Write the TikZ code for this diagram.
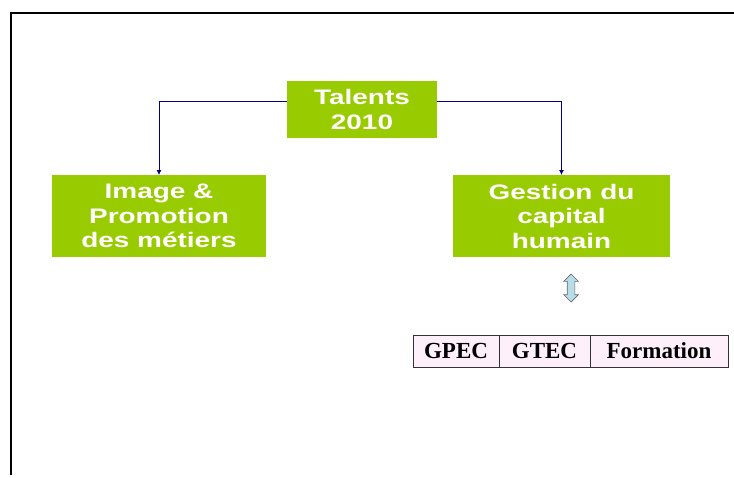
\documentclass[tikz,border=0pt]{standalone}
\usepackage{fontspec}
\usetikzlibrary{positioning,shapes.arrows,arrows.meta}
\newfontfamily\boxfont[FakeStretch=1.33]{Liberation Sans}
\newfontfamily\cellfont{Liberation Serif}
\definecolor{talentgreen}{RGB}{153,204,0}
\definecolor{linkblue}{RGB}{0,0,128}
\definecolor{cellpink}{RGB}{253,240,250}
\definecolor{arrowblue}{RGB}{183,222,232}
\tikzset{
  greenbox/.style={fill=talentgreen,text=white,font=\boxfont\bfseries\fontsize{21}{24.5}\selectfont,
    align=center,inner sep=0pt,outer sep=0pt},
  link/.style={draw=linkblue,line width=.8pt,-{Latex[length=5pt,width=5pt]}},
  cell/.style={draw=black!80,fill=cellpink,line width=.8pt,font=\cellfont\bfseries\fontsize{23}{24}\selectfont,
    minimum height=32pt,inner sep=0pt,outer sep=0pt,anchor=west}
}
\begin{document}
\begin{tikzpicture}[x=1pt,y=-1pt]
\useasboundingbox(0,0)rectangle(734,477);
\draw[line width=2.2pt](11,475)--(11,13)--(734,13);
\node[greenbox,minimum width=150pt,minimum height=57pt](talents) at (362,109.5){Talents\\2010};
\node[greenbox,minimum width=214pt,minimum height=82pt](image) at (159,216){Image \&\\Promotion\\des métiers};
\node[greenbox,minimum width=217pt,minimum height=82pt](gestion) at (561.5,216){Gestion du\\capital\\humain};
\draw[link]([yshift=8.5pt]talents.west)-|(image.north);
\draw[link]([yshift=8.5pt]talents.east)-|(gestion.north);
\node[double arrow,rotate=90,draw=black!60,fill=arrowblue,line width=.7pt,minimum height=28pt,
  inner xsep=0pt,inner ysep=3.5pt,double arrow head extend=3.5pt,double arrow head indent=0pt](swap) at (571,288){};
\node[cell,minimum width=86pt](gpec) at (413,351){GPEC};
\node[cell,minimum width=91pt,right=0pt of gpec](gtec){GTEC};
\node[cell,minimum width=138pt,right=0pt of gtec](formation){Formation};
\end{tikzpicture}
\end{document}
